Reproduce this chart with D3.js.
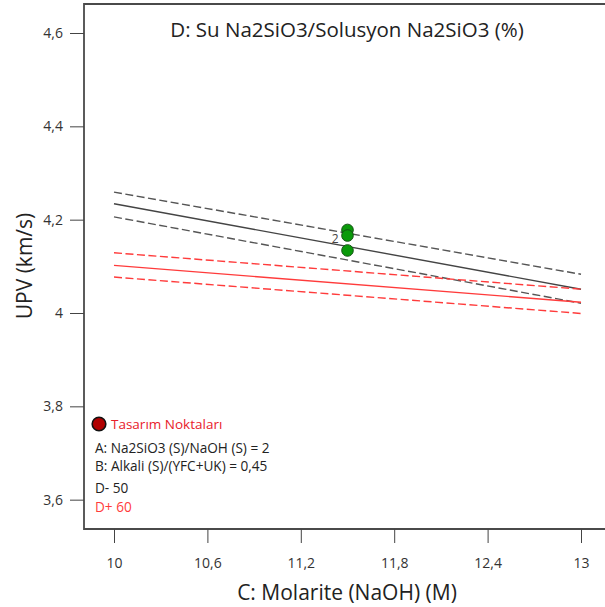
<!DOCTYPE html>
<html>
<head>
<meta charset="utf-8">
<script src="https://cdn.jsdelivr.net/npm/d3@7"></script>
<style>
  html, body { margin: 0; padding: 0; background: #fff; }
  svg { display: block; font-family: "Open Sans", "Noto Sans", sans-serif; }
</style>
</head>
<body>
<svg id="chart" width="605" height="607"></svg>
<script>
// Molarite range and predicted UPV at both ends for D- (50) and D+ (60)
const xEnds = [10, 13];
const dLowMean  = [4.234, 4.051];
const dLowUpper = [4.259, 4.083];
const dLowLower = [4.206, 4.021];
const dHighMean  = [4.102, 4.023];
const dHighUpper = [4.129, 4.051];
const dHighLower = [4.077, 3.999];

// Design points
const pointX = [11.5, 11.5, 11.5];
const pointY = [4.178, 4.166, 4.134];

const xTicks = [10, 10.6, 11.2, 11.8, 12.4, 13];
const yTicks = [3.6, 3.8, 4.0, 4.2, 4.4, 4.6];

const legendTitle = "Tasarım Noktaları";
const legendLines = ["A: Na2SiO3 (S)/NaOH (S) = 2", "B: Alkali (S)/(YFC+UK) = 0,45"];
const seriesLabels = ["D- 50", "D+ 60"];

const svg = d3.select("#chart");
const frameLeft = 84, frameTop = 4, frameBottom = 529, frameRight = 620;

const x = d3.scaleLinear().domain([10, 13]).range([114, 581]);
const y = d3.scaleLinear().domain([4.0, 4.6]).range([313, 33]);
const fmt = d => String(d).replace(".", ",");

// Plot frame
svg.append("path")
  .attr("d", `M${frameRight},${frameTop}H${frameLeft}V${frameBottom}H${frameRight}`)
  .attr("fill", "none").attr("stroke", "#4a4a4a").attr("stroke-width", 1.8);

// Y axis
const yAxis = svg.append("g").attr("transform", `translate(${frameLeft},0)`)
  .call(d3.axisLeft(y).tickValues(yTicks).tickFormat(fmt).tickSize(14).tickPadding(7));
yAxis.select(".domain").remove();
yAxis.selectAll("line").attr("stroke", "#444");
yAxis.selectAll("text").attr("font-size", 14).attr("fill", "#333").attr("font-family", "Open Sans, sans-serif");

// X axis
const xAxis = svg.append("g").attr("transform", `translate(0,${frameBottom})`)
  .call(d3.axisBottom(x).tickValues(xTicks).tickFormat(fmt).tickSize(14).tickPadding(15));
xAxis.select(".domain").remove();
xAxis.selectAll("line").attr("stroke", "#444");
xAxis.selectAll("text").attr("font-size", 14).attr("fill", "#333").attr("font-family", "Open Sans, sans-serif");

// Axis titles
svg.append("text").attr("x", 347).attr("y", 600).attr("text-anchor", "middle")
  .attr("font-size", 21).attr("fill", "#222").text("C: Molarite (NaOH) (M)");
svg.append("text").attr("transform", "translate(32,266) rotate(-90)").attr("text-anchor", "middle")
  .attr("font-size", 21).attr("fill", "#222").text("UPV (km/s)");

// Panel title
svg.append("text").attr("x", 347).attr("y", 37).attr("text-anchor", "middle")
  .attr("font-size", 20.5).attr("fill", "#222").text("D: Su Na2SiO3/Solusyon Na2SiO3 (%)");

// Prediction lines with confidence bands
const line = d3.line().x((d, i) => x(xEnds[i])).y(d => y(d));
const series = [
  { v: dLowUpper, c: "#555", dash: "8,3.5", w: 1.4 },
  { v: dLowLower, c: "#555", dash: "8,3.5", w: 1.4 },
  { v: dLowMean, c: "#444", dash: null, w: 1.4 },
  { v: dHighUpper, c: "#ff3b3b", dash: "8,3.5", w: 1.4 },
  { v: dHighLower, c: "#ff3b3b", dash: "8,3.5", w: 1.4 },
  { v: dHighMean, c: "#ff3b3b", dash: null, w: 1.4 }
];
svg.append("g").selectAll("path").data(series).join("path")
  .attr("d", d => line(d.v))
  .attr("fill", "none").attr("stroke", d => d.c).attr("stroke-width", d => d.w)
  .attr("stroke-dasharray", d => d.dash);

// Design points
svg.append("g").selectAll("circle").data(pointY).join("circle")
  .attr("cx", (d, i) => x(pointX[i])).attr("cy", d => y(d)).attr("r", 5.8)
  .attr("fill", "#0a9a0a").attr("stroke", "#145214").attr("stroke-width", 1);
svg.append("text").attr("x", x(pointX[1]) - 9).attr("y", y(pointY[1]) + 7)
  .attr("text-anchor", "end").attr("font-size", 12).attr("fill", "#444").text("2");

// Legend
svg.append("circle").attr("cx", 99).attr("cy", 424).attr("r", 6.8)
  .attr("fill", "#b00000").attr("stroke", "#111").attr("stroke-width", 1.6);
svg.append("text").attr("x", 111).attr("y", 429).attr("font-size", 13.5).attr("fill", "#e8202a").text(legendTitle);
legendLines.forEach((t, i) => {
  svg.append("text").attr("x", 95).attr("y", 453 + i * 18).attr("font-size", 13.6).attr("fill", "#222").text(t);
});
seriesLabels.forEach((t, i) => {
  svg.append("text").attr("x", 95).attr("y", 493 + i * 19).attr("font-size", 13.6)
    .attr("fill", i === 0 ? "#222" : "#ff3b3b").text(t);
});
</script>
</body>
</html>
